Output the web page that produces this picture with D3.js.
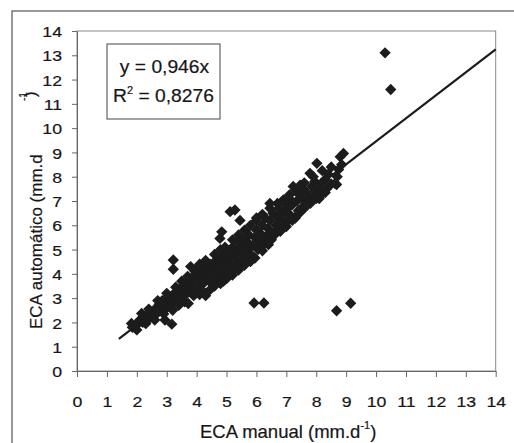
<!DOCTYPE html>
<html><head><meta charset="utf-8">
<script src="https://cdn.jsdelivr.net/npm/d3@7"></script>
<style>
html,body{margin:0;padding:0;background:#fff;}
svg text{font-family:"Liberation Sans",Arial,sans-serif;fill:#161616;stroke:#161616;stroke-width:0.2px;}
</style></head>
<body><svg id="c" width="514" height="443"></svg>
<script>
// ---- data (ECA manual, ECA automático), mm.d-1 ----
const cloudPoints = [
 [1.82,1.96],[1.85,1.80],[2.0,1.69],[1.95,1.9],
 [2.05,1.95],[2.1,2.1],[2.16,2.37],[2.2,2.0],[2.25,2.2],
 [2.3,2.3],[2.35,2.15],[2.4,2.35],[2.45,2.2],[2.5,2.3],
 [2.55,2.45],[2.6,2.3],[2.65,2.6],[2.7,2.4],[2.75,2.75],
 [2.8,2.55],[2.85,2.9],[2.9,2.7],[2.95,2.95],[3.0,2.6],
 [3.05,2.85],[3.1,3.05],[3.15,2.7],[3.2,3.0],
 [3.25,3.2],[3.3,2.85],[3.35,3.1],[3.4,3.35],[3.45,2.95],[3.5,3.25],
 [3.55,3.5],[3.6,3.1],[3.65,3.4],[3.7,3.65],[3.75,3.3],
 [3.8,3.55],[3.85,3.85],[3.9,3.35],[3.95,4.1],[4.0,3.7],[4.0,4.2],
 [4.05,3.4],[4.1,3.95],[4.15,4.2],[4.22,3.6],[4.25,4.0],[4.3,4.3],[4.3,3.1],
 [4.35,3.8],[4.4,4.1],[4.45,4.4],[4.5,3.6],[4.5,3.95],[4.56,3.68],[4.55,4.25],
 [4.6,4.5],[4.65,4.0],[4.7,4.3],[4.7,3.85],[4.75,4.6],
 [4.8,4.1],[4.85,4.45],[4.9,3.8],[4.9,4.8],[4.95,4.25],[5.0,4.6],[5.0,5.0],
 [5.05,4.0],[5.1,4.4],[5.15,4.75],[5.2,5.1],[5.25,4.2],
 [5.3,4.6],[5.35,4.9],[5.4,5.3],[5.45,4.4],[5.5,4.8],[5.5,5.1],
 [5.55,5.4],[5.6,4.6],[5.65,5.0],[5.7,5.3],[5.75,5.6],[5.8,4.8],
 [5.85,5.15],[5.9,4.7],[5.95,5.5],[6.0,5.8],[6.0,6.2],[6.05,5.0],
 [6.1,5.3],[6.15,5.65],[6.2,6.0],[6.25,5.2],[6.3,6.3],
 [6.35,5.5],[6.4,5.85],[6.45,6.2],[6.5,5.4],[6.55,6.5],
 [6.6,5.7],[6.65,6.0],[6.7,6.35],[6.75,6.7],[6.8,5.8],[6.85,6.2],
 [6.9,6.5],[6.95,6.9],[7.0,6.1],[7.05,6.7],[7.1,7.1],[7.15,6.4],
 [7.2,6.85],[7.3,6.3],[7.35,7.0],[7.4,7.3],[7.46,6.55],
 [7.5,6.7],[7.55,7.1],[7.6,7.45],[7.65,6.9],[7.7,7.3],
 [7.8,7.0],[7.85,7.6],[7.9,7.2],[7.95,7.8],[8.05,7.4],[8.1,7.1],
 [8.15,7.7],[8.2,7.3],[8.3,7.9],[8.35,7.5],[8.4,8.1],[8.5,7.7],
 [8.63,7.72],[8.68,7.68],[8.7,8.0],[8.75,8.3],[8.85,8.5],
 // lower edge of the band
 [2.3,1.95],[2.6,2.1],[2.9,2.35],[3.2,2.5],[3.4,2.7],[3.6,2.85],[3.9,3.1],
 [4.1,3.15],[4.3,3.2],[4.45,3.35],[4.6,3.5],[4.8,3.6],[4.9,3.7],[5.0,3.8],
 [5.2,3.95],[5.4,4.15],[5.6,4.35],[5.8,4.5],[5.95,4.65],[6.2,4.95],[6.4,5.2],
 [6.6,5.6],[6.8,5.75],[7.0,5.95],[7.2,6.2],[7.4,6.45],[7.6,6.7],[7.8,6.9],
 [8.0,7.1],[8.3,7.35],
 // upper edge of the band
 [2.4,2.55],[2.7,2.9],[3.0,3.2],[3.3,3.45],[3.5,3.7],[3.7,3.9],[3.8,4.3],
 [4.1,4.4],[4.3,4.55],[4.6,4.8],[4.8,5.0],[4.95,5.1],[5.2,5.4],[5.4,5.6],
 [5.6,5.8],[5.8,6.0],[6.0,6.3],[6.2,6.45],[6.45,6.7],[6.7,6.9],[6.9,7.05],
 [7.1,7.25],[7.3,7.45],[7.6,7.75],[7.9,8.0],[8.2,8.25],[8.5,8.4],
 // band interior
 [3.1,2.9],[3.5,3.0],[3.8,3.3],[4.2,3.8],[4.45,4.0],[4.7,4.15],[5.05,4.3],
 [5.3,4.4],[5.6,4.9],[5.9,5.2],[6.2,5.5],[6.45,5.7],[6.8,6.0],[7.1,6.3],
 [7.4,6.6],[7.7,6.9],[8.0,7.2]
];
const scatteredPoints = [
 [3.22,4.57],[3.22,4.19],[2.94,2.1],[3.17,1.93],[3.72,2.78],[4.2,3.26],
 [4.78,5.46],[4.84,5.73],[5.12,6.56],[5.28,6.63],[5.45,6.2],
 [6.45,6.9],[7.23,7.6],[7.46,7.65],[7.79,8.14],[8.02,8.55],
 [8.8,8.82],[8.91,8.96],
 [5.92,2.8],[6.25,2.8],[8.68,2.48],[9.15,2.79],
 [10.3,13.1],[10.49,11.59]
];
const trendSlope = 0.946;
const trendRange = [1.4, 14];
const xTicks = [0,1,2,3,4,5,6,7,8,9,10,11,12,13,14];
const yTicks = [0,1,2,3,4,5,6,7,8,9,10,11,12,13,14];
const eqLine1 = "y = 0,946x";
const eqLine2 = ["R", "2", " = 0,8276"];
const xLabel = ["ECA manual (mm.d", "-1", ")"];
const yLabel = "ECA automático (mm.d";

// ---- layout ----
const svg = d3.select("#c");
const L = 77, T = 31, R = 495.7, B = 371;
const x = d3.scaleLinear().domain([0,14]).range([L,R]);
const y = d3.scaleLinear().domain([0,14]).range([B,T]);
const SX = 1.14; // horizontal text stretch of the scanned figure

// outer frame
svg.append("rect").attr("x",12).attr("y",11).attr("width",600).attr("height",600)
  .attr("fill","none").attr("stroke","#555").attr("stroke-width",1.2);

// plot border
svg.append("rect").attr("x",L).attr("y",T).attr("width",R-L).attr("height",B-T)
  .attr("fill","none").attr("stroke","#8a8a8a").attr("stroke-width",1);

// axes
const xAxis = svg.append("g").attr("transform",`translate(0,${B})`)
  .call(d3.axisBottom(x).tickValues(xTicks).tickSize(6).tickSizeOuter(0).tickFormat(d3.format("d")));
xAxis.select(".domain").attr("stroke","#666");
xAxis.selectAll(".tick line").attr("stroke","#666");
xAxis.selectAll(".tick text").attr("y",36).attr("dy",0).attr("font-size","15.5px")
  .attr("transform",`scale(${SX},1)`).style("font-family","Liberation Sans").attr("fill","#161616");

const yAxis = svg.append("g").attr("transform",`translate(${L},0)`)
  .call(d3.axisLeft(y).tickValues(yTicks).tickSize(5).tickSizeOuter(0).tickFormat(d3.format("d")));
yAxis.select(".domain").attr("stroke","#666");
yAxis.selectAll(".tick line").attr("stroke","#666");
yAxis.selectAll(".tick text").attr("x",-15/SX).attr("dy","0.36em").attr("font-size","15.5px")
  .attr("transform",`scale(${SX},1)`).style("font-family","Liberation Sans").attr("fill","#161616");

// points
const diamond = d3.symbol().type(d3.symbolSquare).size(64);
const allPts = cloudPoints.concat(scatteredPoints);
svg.append("g").selectAll("path").data(allPts).join("path")
  .attr("d",diamond)
  .attr("transform",d=>`translate(${x(d[0])},${y(d[1])}) rotate(45)`)
  .attr("fill","#1c1c1c");

// trendline
svg.append("line")
  .attr("x1",x(trendRange[0])).attr("y1",y(trendRange[0]*trendSlope))
  .attr("x2",x(trendRange[1])).attr("y2",y(trendRange[1]*trendSlope))
  .attr("stroke","#1c1c1c").attr("stroke-width",2.2);

// equation box
svg.append("rect").attr("x",107).attr("y",44).attr("width",113).attr("height",75)
  .attr("fill","#fff").attr("stroke","#555").attr("stroke-width",1.1);
svg.append("g").attr("transform","translate(164.5,72.5)")
  .append("text").attr("text-anchor","middle").attr("font-size","17.5px")
  .attr("transform",`scale(1.1,1)`).text(eqLine1);
const t2 = svg.append("g").attr("transform","translate(163.5,101.5)")
  .append("text").attr("text-anchor","middle").attr("font-size","17.5px").attr("transform",`scale(1.1,1)`);
t2.append("tspan").text(eqLine2[0]);
t2.append("tspan").attr("font-size","10px").attr("dy",-8).text(eqLine2[1]);
t2.append("tspan").attr("dy",8).text(eqLine2[2]);

// x label
const xl = svg.append("text").attr("x",200).attr("y",438).attr("font-size","18.5px");
xl.append("tspan").text(xLabel[0]);
xl.append("tspan").attr("font-size","11px").attr("dy",-9).text(xLabel[1]);
xl.append("tspan").attr("dy",9).text(xLabel[2]);

// y label (rotated; superscript and bracket placed apart as in the original)
svg.append("text").attr("transform","translate(42,329) rotate(-90)")
  .attr("font-size","17px").text(yLabel);
svg.append("text").attr("transform","translate(27,101) rotate(-90)")
  .attr("font-size","10px").text(xLabel[1]);
svg.append("text").attr("transform","translate(36,97) rotate(-90)")
  .attr("font-size","17px").text(xLabel[2]);
</script></body></html>
